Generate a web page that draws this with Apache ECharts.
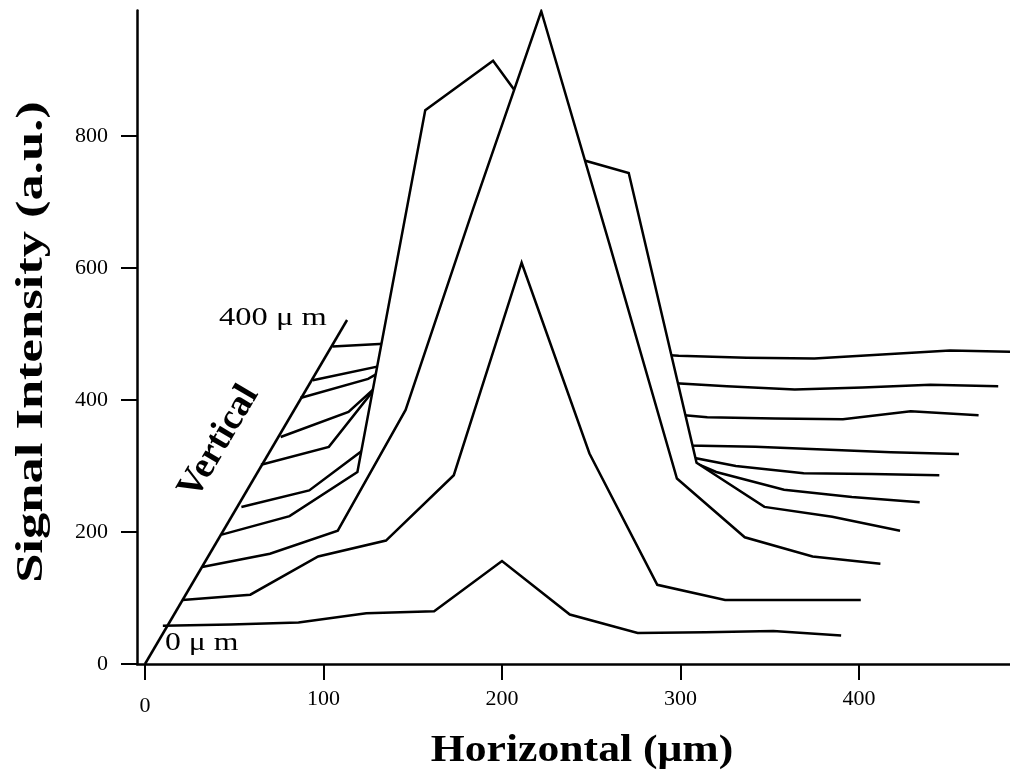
<!DOCTYPE html>
<html>
<head>
<meta charset="utf-8">
<title>Signal intensity profiles</title>
<script src="https://cdn.jsdelivr.net/npm/echarts@6/dist/echarts.min.js"></script>
<style>
  html, body { margin: 0; padding: 0; background: #fff; }
  #chart { width: 1010px; height: 776px; }
</style>
</head>
<body>
<div id="chart"></div>
<script>
// profiles from front (0 um) to back (400 um): horizontal position (um) and signal (a.u.)
const horiz0 = [10, 48, 86, 124, 162, 200, 238, 276, 314, 352, 390];
const signal0 = [58, 60, 63, 77, 80, 156, 75, 47, 48, 50, 43];
const horiz1 = [21, 59, 97, 135, 173, 211, 249, 287, 325, 363, 401];
const signal1 = [97, 105, 163, 187, 286, 608, 319, 120, 97, 97, 97];
const horiz2 = [32, 70, 108, 146, 184, 222, 260, 298, 336, 374, 412];
const signal2 = [147, 167, 202, 385, 691, 989, 638, 281, 192, 163, 152];
const horiz3 = [43, 81, 119, 157, 195, 233, 271, 309, 347, 385, 423];
const signal3 = [196, 224, 291, 839, 914, 773, 744, 305, 238, 223, 202];
const horiz4 = [54, 92, 130, 168, 206, 244, 282, 320, 358, 396, 434];
const signal4 = [238, 263, 340, 552, 703, 612, 335, 291, 264, 253, 245];
const horiz5 = [65, 103, 141, 179, 217, 255, 293, 331, 369, 407, 445];
const signal5 = [302, 329, 459, 627, 733, 582, 320, 300, 289, 288, 286];
const horiz6 = [76, 114, 152, 190, 228, 266, 304, 342, 380, 418, 456];
const signal6 = [344, 382, 475, 642, 733, 612, 331, 329, 325, 321, 318];
const horiz7 = [87, 125, 163, 201, 239, 277, 315, 353, 391, 429, 467];
const signal7 = [403, 432, 491, 658, 703, 383, 374, 372, 371, 383, 377];
const horiz8 = [94, 136, 174, 212, 250, 288, 326, 364, 402, 440, 478];
const signal8 = [430, 454, 521, 673, 658, 427, 421, 416, 419, 423, 421];
const horiz9 = [105, 147, 185, 223, 261, 299, 337, 375, 413, 451, 489];
const signal9 = [481, 487, 552, 642, 473, 467, 464, 463, 469, 475, 473];

// the slanted "Vertical" axis, 0 um to 400 um
const vertAxisX = [0, 113.2];
const vertAxisY = [0, 521.2];

const xTicks = [0, 100, 200, 300, 400];
const yTicks = [0, 200, 400, 600, 800];

const horiz = [horiz0, horiz1, horiz2, horiz3, horiz4, horiz5, horiz6, horiz7, horiz8, horiz9];
const signal = [signal0, signal1, signal2, signal3, signal4, signal5, signal6, signal7, signal8, signal9];

const serif = "'Liberation Serif', 'DejaVu Serif', serif";

const chart = echarts.init(document.getElementById("chart"), null, { renderer: "canvas" });

// back profiles first, white fill under each line hides what lies behind it
const profileSeries = horiz.map((xs, k) => ({
  type: "line",
  name: "profile " + k,
  data: xs.map((x, i) => [x, signal[k][i]]),
  symbol: "none",
  z: 20 - k,
  clip: true,
  silent: true,
  lineStyle: { color: "#000", width: 2.5, join: "miter" },
  areaStyle: { color: "#fff", opacity: 1, origin: "start" },
}));

// text helper for the free labels (the figure's lettering is a bit wider than Times)
function label(text, x, y, opts) {
  return {
    type: "text",
    x: x, y: y, z: 50,
    rotation: opts.rotation || 0,
    scaleX: opts.scaleX || 1,
    style: {
      text: text, fontFamily: serif, fontWeight: opts.bold ? "bold" : "normal", fontSize: opts.size,
      fill: "#000", align: opts.align || "center", verticalAlign: "middle",
      textAlign: opts.align || "center", textVerticalAlign: "middle",
    },
  };
}

const option = {
  backgroundColor: "#fff",
  animation: false,
  grid: { left: 137, right: 0, top: 10.6, bottom: 112, containLabel: false },
  xAxis: {
    type: "value",
    min: -4.48,
    max: 484.6,
    z: 40,
    splitLine: { show: false },
    axisLine: { lineStyle: { color: "#000", width: 2.5 } },
    axisTick: { customValues: xTicks, length: 16, lineStyle: { color: "#000", width: 2 } },
    axisLabel: {
      customValues: xTicks,
      margin: 24,
      color: "#000",
      fontFamily: serif,
      fontSize: 22,
      formatter: (v) => (v === 0 ? "{z|0}" : String(v)),
      rich: { z: { fontFamily: serif, fontSize: 22, color: "#000", padding: [7, 0, 0, 0] } },
    },
  },
  yAxis: {
    type: "value",
    min: 0,
    max: 990,
    z: 40,
    splitLine: { show: false },
    axisLine: { onZero: false, lineStyle: { color: "#000", width: 2.5 } },
    axisTick: { customValues: yTicks, length: 16, lineStyle: { color: "#000", width: 2 } },
    axisLabel: { customValues: yTicks, margin: 29, color: "#000", fontFamily: serif, fontSize: 22 },
  },
  series: [
    ...profileSeries,
    {
      type: "line",
      name: "vertical axis",
      data: vertAxisX.map((x, i) => [x, vertAxisY[i]]),
      symbol: "none",
      z: 30,
      silent: true,
      lineStyle: { color: "#000", width: 2.5 },
    },
  ],
  graphic: [
    label("Horizontal (\u03bcm)", 582, 751, { bold: true, size: 37, scaleX: 1.18 }),
    label("Signal Intensity (a.u.)", 32, 342, { bold: true, size: 37, scaleX: 1.42, rotation: Math.PI / 2 }),
    label("Vertical", 219, 442, { bold: true, size: 37, rotation: 1.04 }),
    label("400 \u03bc m", 219, 318, { size: 25, scaleX: 1.3, align: "left" }),
    label("0 \u03bc m", 165, 643, { size: 25, scaleX: 1.27, align: "left" }),
  ],
};

chart.setOption(option);
</script>
</body>
</html>
